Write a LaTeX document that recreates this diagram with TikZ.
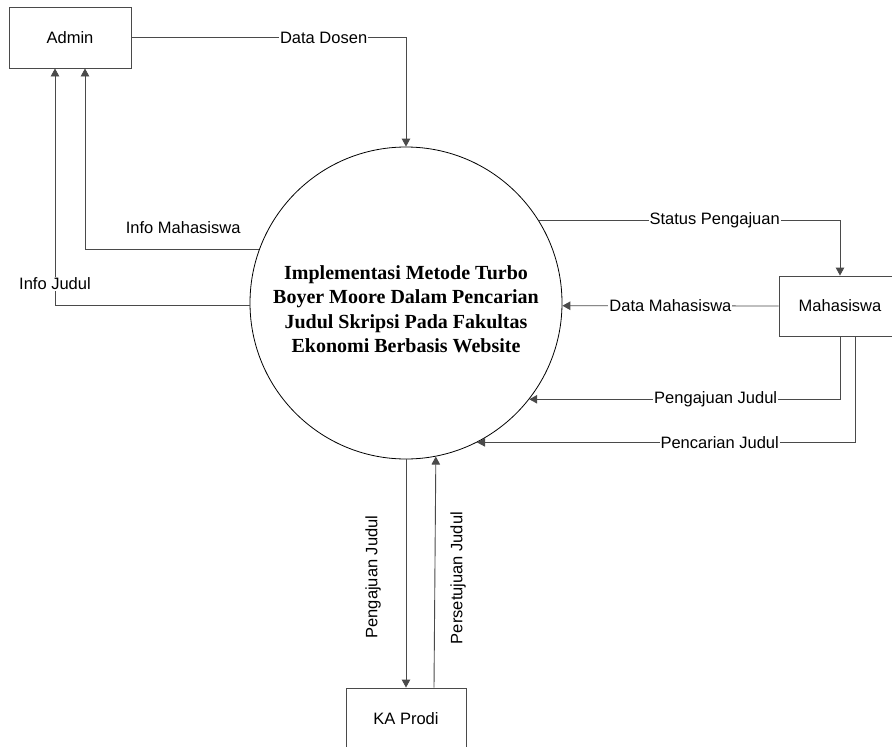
\documentclass[tikz,border=0pt]{standalone}
\usepackage{fontspec}
\setmainfont{Liberation Sans}
\newfontfamily\procfont{Liberation Serif}
\usetikzlibrary{arrows.meta}

\definecolor{linegray}{HTML}{4A4A4A}

\tikzset{
  entity/.style={draw=linegray, line width=0.9pt, minimum width=122pt, minimum height=61pt,
                 font=\fontsize{16.5}{19}\selectfont, inner sep=0pt},
  process/.style={draw=black, line width=0.8pt, circle, minimum size=312pt, inner sep=0pt},
  flow/.style={draw=linegray, line width=0.9pt, -{Triangle[length=8pt,width=8.5pt]}},
  flowlabel/.style={font=\fontsize{16.5}{19}\selectfont, fill=white, inner sep=1pt},
  freelabel/.style={font=\fontsize{16.5}{19}\selectfont, inner sep=0pt}
}

\begin{document}
\begin{tikzpicture}[x=1pt, y=-1pt]
  \useasboundingbox (0,0) rectangle (892,747);
  \clip (0,0) rectangle (892,747);

  % external entities and the central process
  \node[entity] (admin) at (70,37.5) {Admin};
  \node[entity, minimum height=60pt] (mhs) at (840,306) {Mahasiswa};
  \node[entity, minimum width=120pt] (kaprodi) at (406,718.5) {KA Prodi};
  \node[process] (proc) at (406,303) {};
  \node[font=\procfont\bfseries\fontsize{20}{24.5}\selectfont, align=center]
    (proctext) at (406,309)
    {Implementasi Metode Turbo\\Boyer Moore Dalam Pencarian\\Judul Skripsi Pada Fakultas\\Ekonomi Berbasis Website};

  % Admin flows
  \draw[flow] (admin.east) -| (proc.north)
    node[flowlabel, pos=0.35] {Data Dosen};
  \draw[flow] (proc.160.9) -| ([xshift=15pt]admin.south)
    node[freelabel, pos=0.218, anchor=south, yshift=15pt] {Info Mahasiswa};
  \draw[flow] (proc.181.1) -| ([xshift=-15pt]admin.south)
    node[flowlabel, pos=0.546] {Info Judul};

  % Mahasiswa flows
  \draw[flow] (proc.32.6) -| (mhs.north)
    node[flowlabel, pos=0.292] {Status Pengajuan};
  \draw[flow] (mhs.west) -- (proc.-1.1)
    node[flowlabel, pos=0.5] {Data Mahasiswa};
  \draw[flow] (mhs.south) |- (proc.-38)
    node[flowlabel, pos=0.7] {Pengajuan Judul};
  \draw[flow] ([xshift=15pt]mhs.south) |- (proc.-63)
    node[flowlabel, pos=0.679] {Pencarian Judul};

  % KA Prodi flows
  \draw[flow] (proc.south) -- (kaprodi.north);
  \draw[flow] ([xshift=28pt]kaprodi.north) -- (proc.-79.65);
  \node[freelabel, rotate=90] (lblpengajuan) at (373,577) {Pengajuan Judul};
  \node[freelabel, rotate=90] (lblpersetujuan) at (458,578) {Persetujuan Judul};
\end{tikzpicture}
\end{document}
